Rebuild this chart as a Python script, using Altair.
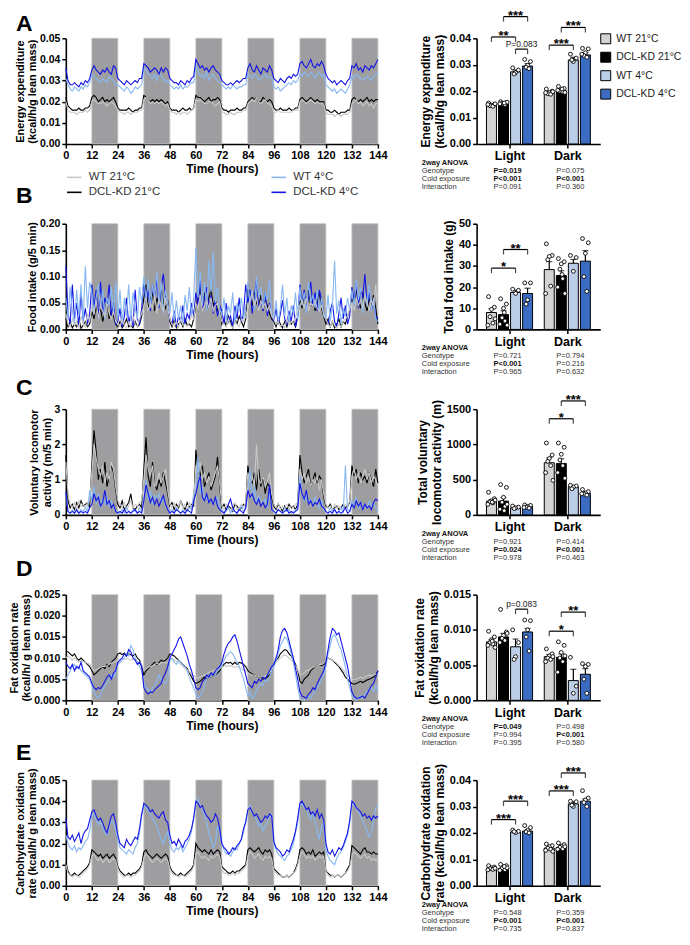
import altair as alt
import pandas as pd

FONT = "Liberation Sans"

# ---------------- shared categories ----------------
HOURS = list(range(0, 145))
DARK_START = [12, 36, 60, 84, 108, 132]
DARK_END = [24, 48, 72, 96, 120, 144]
GROUPS = ["WT 21°C", "DCL-KD 21°C", "WT 4°C", "DCL-KD 4°C"]
LINE_COLORS = ["#c8c8c8", "#000000", "#86b8f3", "#1414e6"]
BAR_COLORS = ["#d3d3d3", "#000000", "#bccde8", "#3c6cc2"]
PERIODS = ["Light", "Dark"]
ANOVA_TERMS = ["Genotype", "Cold exposure", "Interaction"]

# ---------------- A: energy expenditure time course (x0.001 kcal/h/g) ----------------
EE_WT21 = [20,16,15,15,15,14,15,15,15,16,15,16,
           20,21,20,19,19,20,19,18,19,20,19,18,
           16,15,15,14,15,15,14,15,15,15,16,16,
           21,22,21,19,20,19,20,19,20,19,18,19,
           16,15,15,14,15,14,15,15,14,15,16,17,
           21,20,21,20,19,19,20,20,19,18,19,20,
           15,15,14,14,15,14,14,15,15,15,16,16,
           19,20,21,20,22,20,19,20,21,19,19,18,
           15,15,16,15,15,15,15,15,15,16,16,16,
           20,21,20,19,20,21,20,19,20,19,19,19,
           15,14,14,14,13,14,14,13,14,14,14,15,
           19,20,21,19,20,18,19,20,18,19,17,19,
           19]
EE_KD21 = [22,18,17,16,16,16,17,16,16,17,17,18,
           22,23,22,20,21,22,20,21,20,21,22,20,
           17,16,16,16,16,17,16,15,16,16,17,17,
           23,22,21,20,21,20,21,20,21,20,19,20,
           17,16,16,16,15,16,17,16,16,17,16,17,
           23,22,22,21,20,21,22,20,21,21,22,21,
           17,16,16,15,16,16,16,17,16,16,17,17,
           20,21,22,21,22,20,20,22,21,20,21,20,
           17,16,16,17,16,16,16,17,16,16,17,17,
           21,22,21,20,21,22,21,20,21,20,20,20,
           16,16,15,15,16,15,14,15,15,15,16,16,
           21,22,21,20,21,20,21,22,20,21,20,21,
           21]
EE_WT4 = [31,28,26,25,27,26,25,27,26,28,27,29,
          33,32,31,30,29,31,30,29,32,31,30,28,
          28,27,26,25,27,26,24,25,27,26,27,28,
          36,35,33,32,31,33,30,34,32,31,29,30,
          28,27,26,27,26,28,26,27,27,28,29,29,
          37,35,32,33,31,34,30,32,33,31,30,29,
          28,27,26,27,26,28,27,26,27,27,28,28,
          33,32,31,33,32,30,31,32,33,31,32,31,
          27,26,27,25,26,27,28,29,28,30,29,30,
          33,32,34,33,32,34,33,31,33,34,32,33,
          28,27,26,25,26,24,25,26,25,24,26,28,
          32,31,33,32,31,30,31,32,31,30,32,33,
          34]
EE_KD4 = [36,30,28,28,29,28,27,29,28,30,29,31,
          35,37,35,34,33,35,34,36,34,33,37,36,
          31,30,29,28,30,29,28,29,30,29,31,31,
          38,37,36,34,35,36,35,33,36,34,36,35,
          31,30,29,29,28,30,29,28,30,29,31,32,
          40,38,36,37,35,36,34,36,37,35,34,33,
          30,29,28,28,29,28,29,30,29,30,31,31,
          36,38,35,34,37,35,33,36,35,34,37,35,
          31,30,29,31,30,29,31,32,31,33,32,33,
          38,39,37,36,38,40,37,36,38,37,39,37,
          33,31,30,29,30,28,29,30,29,28,30,31,
          37,36,38,35,36,34,37,36,35,37,36,38,
          40]

# ---------------- B: food intake time course (x0.001 g/5 min) ----------------
FI_WT21 = [30,10,5,20,8,15,3,25,10,5,30,15,
           40,30,55,20,45,35,25,50,30,20,35,15,
           10,5,20,8,3,15,5,25,10,5,20,30,
           45,60,35,50,40,65,30,55,45,35,60,40,
           20,10,5,15,3,20,8,10,5,15,25,20,
           50,40,65,35,45,55,40,60,35,45,50,30,
           15,10,5,20,8,3,15,10,5,20,15,25,
           40,55,70,45,60,35,55,40,50,35,45,25,
           20,10,15,5,10,3,20,8,15,10,25,35,
           45,55,40,60,35,50,45,55,40,35,45,30,
           20,10,5,15,8,3,10,5,15,20,25,40,
           50,35,60,45,55,40,65,50,35,55,45,85,
           30]
FI_KD21 = [20,5,15,3,10,5,20,2,8,15,5,10,
           35,20,45,25,40,15,30,55,20,35,25,10,
           5,15,3,10,20,5,8,3,15,5,10,25,
           60,85,40,55,70,35,60,45,80,50,40,55,
           15,5,20,3,10,15,5,20,8,10,5,20,
           45,60,80,50,70,40,60,75,45,55,35,45,
           10,20,5,25,15,3,20,10,25,15,5,20,
           85,60,45,70,50,40,65,35,55,45,30,20,
           15,5,20,10,3,15,5,20,10,15,5,25,
           55,40,65,50,75,45,60,35,50,70,40,25,
           10,20,5,15,3,10,20,5,15,10,25,35,
           60,45,75,55,40,70,50,35,60,45,65,40,
           10]
FI_WT4 = [60,20,80,35,10,75,25,85,15,120,40,90,
          70,30,60,85,40,75,20,60,45,80,30,90,
          20,75,10,60,25,85,15,70,40,20,80,50,
          100,55,95,40,85,60,110,45,90,30,75,50,
          30,70,15,55,20,45,10,65,35,80,25,60,
          155,60,110,45,90,35,130,70,145,50,80,40,
          25,60,15,45,30,70,10,50,35,60,20,40,
          90,50,75,35,100,60,80,40,70,55,95,30,
          20,55,15,40,85,25,60,10,45,30,70,20,
          80,45,70,30,90,50,65,40,75,35,60,25,
          20,65,15,45,130,30,55,10,40,25,60,35,
          75,40,95,55,80,30,70,45,85,35,60,20,
          15]
FI_KD4 = [120,30,10,85,20,50,5,70,15,40,10,30,
          85,40,75,20,90,30,60,45,85,25,50,10,
          15,40,5,25,60,10,30,5,75,20,10,40,
          90,50,75,35,85,60,95,40,80,105,60,45,
          20,10,35,5,25,15,45,10,30,20,50,25,
          70,45,95,35,60,80,40,65,30,55,25,45,
          35,10,50,15,25,5,45,20,60,15,30,85,
          50,75,30,60,95,40,55,35,70,25,50,30,
          15,40,10,30,55,20,10,35,15,45,5,25,
          85,50,75,40,60,90,45,70,35,75,55,30,
          20,10,35,50,15,5,30,60,20,45,10,25,
          80,55,90,40,75,60,105,45,70,35,55,25,
          20]

# ---------------- C: locomotor activity time course (x0.01 m/5 min) ----------------
LA_WT21 = [150,60,30,20,35,15,40,25,30,20,35,40,
           120,200,160,130,110,140,90,120,100,150,130,80,
           40,30,20,35,15,25,40,20,30,25,35,40,
           100,170,130,110,140,80,95,120,90,110,130,70,
           30,20,35,15,25,40,20,30,15,35,20,40,
           140,120,150,100,120,90,110,80,100,120,140,90,
           25,15,30,20,10,25,35,15,20,30,20,35,
           120,90,110,80,200,100,90,110,80,95,120,60,
           30,20,35,15,25,20,30,15,25,20,30,35,
           130,100,120,90,110,80,100,90,110,70,100,60,
           30,20,25,15,30,20,25,15,20,30,25,40,
           110,130,100,120,90,110,130,100,120,90,110,100,
           80]
LA_KD21 = [170,40,20,30,15,35,20,40,25,30,35,20,
           140,240,180,100,130,90,150,80,110,140,120,70,
           30,20,40,15,25,35,60,20,15,25,30,20,
           130,220,110,80,150,90,70,100,80,120,90,60,
           25,35,15,30,20,40,25,15,35,20,30,25,
           185,130,110,140,80,100,120,70,90,110,165,80,
           20,30,15,25,20,10,30,25,15,20,30,25,
           140,100,90,120,70,130,80,110,60,90,80,50,
           25,15,30,20,10,25,15,30,20,25,15,30,
           170,120,90,110,130,80,100,120,90,110,100,50,
           25,20,30,15,20,25,15,20,30,20,25,35,
           140,110,130,90,120,100,110,90,120,100,80,130,
           90]
LA_WT4 = [60,10,5,15,5,10,5,15,10,20,10,70,
          40,80,30,60,20,45,30,50,25,40,20,10,
          10,5,15,5,20,10,5,15,10,5,20,10,
          50,100,40,70,30,55,45,60,35,50,25,20,
          10,15,5,20,10,5,15,5,10,20,15,60,
          70,165,60,80,40,50,35,45,30,40,50,20,
          15,5,10,20,5,15,10,5,15,25,10,20,
          60,130,45,80,35,55,40,30,45,20,60,15,
          10,5,15,10,5,20,10,15,5,10,15,20,
          110,60,40,55,30,45,25,50,35,20,40,15,
          10,5,20,10,15,5,10,20,5,140,15,10,
          40,25,50,20,35,15,30,20,40,25,35,20,
          10]
LA_KD4 = [65,10,5,10,5,15,5,10,5,10,5,20,
          30,60,40,50,25,35,70,30,40,20,30,10,
          5,10,5,15,5,10,5,10,15,5,10,5,
          40,85,60,35,50,30,45,25,40,55,30,15,
          5,10,5,15,10,5,10,5,15,10,5,40,
          60,90,110,50,40,60,35,45,30,50,25,15,
          10,5,15,30,45,20,10,5,15,10,5,20,
          70,50,60,40,30,45,25,35,20,30,85,15,
          10,5,15,10,5,10,15,5,10,5,10,15,
          90,60,45,70,30,40,25,35,30,45,25,20,
          10,5,10,5,15,5,10,5,10,20,5,10,
          30,20,40,25,35,15,30,20,25,15,35,45,
          40]

# ---------------- D: fat oxidation time course (x0.0001 kcal/h/g) ----------------
FO_KD21 = [115,115,110,105,110,100,95,100,95,90,85,80,
           70,60,65,70,75,80,75,85,80,90,95,100,
           110,112,108,112,105,110,108,105,110,100,95,80,
           60,70,75,80,85,90,85,90,95,92,95,100,
           110,108,105,100,95,90,85,80,75,65,55,45,
           40,42,45,50,55,50,60,55,62,60,65,70,
           80,85,90,88,90,85,90,85,90,88,85,80,
           70,65,62,60,58,55,55,50,52,55,60,70,
           85,95,100,110,115,120,118,110,105,95,85,70,
           45,40,50,55,60,70,75,80,82,85,82,85,
           95,100,98,95,90,85,80,72,65,55,50,45,
           40,38,40,42,45,42,45,48,50,52,55,60,
           70]
FO_WT21 = [100,105,100,95,100,95,90,95,92,90,88,85,
           78,70,72,75,78,80,80,82,85,88,90,92,
           95,98,100,96,100,98,95,98,96,92,90,85,
           72,75,78,80,82,85,88,85,88,90,88,90,
           95,98,95,92,88,85,80,75,72,68,62,58,
           55,52,55,58,60,62,65,68,70,72,72,75,
           78,80,82,80,82,80,78,80,78,75,72,70,
           65,62,60,60,58,56,55,55,58,60,65,72,
           85,90,95,100,105,108,105,100,95,90,82,72,
           60,62,65,70,72,75,78,80,82,85,85,88,
           95,100,98,95,92,88,82,78,72,65,60,55,
           50,48,50,52,55,52,55,58,60,58,60,62,
           62]
FO_KD4 = [90,80,75,85,70,80,75,90,70,65,60,55,
          40,30,25,30,28,35,45,55,60,50,65,70,
          90,95,100,110,105,120,115,100,95,85,90,80,
          30,20,15,20,18,25,30,35,40,55,65,80,
          100,110,120,130,145,150,135,120,105,85,70,50,
          30,25,30,45,50,60,55,65,60,70,75,80,
          90,110,125,135,140,150,155,140,120,100,80,60,
          40,35,30,45,40,50,45,55,50,60,70,80,
          85,100,120,150,165,170,160,140,120,100,75,50,
          20,10,8,5,15,20,30,25,40,50,60,70,
          90,120,150,170,165,155,160,140,120,100,80,50,
          20,10,5,5,8,10,5,15,25,35,40,55,
          70]
FO_WT4 = [50,60,70,80,85,75,80,70,65,60,55,50,
          35,20,10,5,15,25,35,40,50,60,55,65,
          85,90,95,100,110,105,130,120,100,90,80,70,
          40,30,25,20,30,35,45,60,50,45,40,50,
          95,100,90,85,95,90,85,80,70,55,40,30,
          15,5,10,20,35,50,60,55,65,60,70,75,
          80,95,105,110,115,110,100,90,80,65,50,30,
          10,20,5,10,25,30,40,35,50,45,55,70,
          80,95,110,130,140,150,145,130,110,90,60,30,
          5,2,0,5,10,5,15,20,30,40,50,60,
          80,110,130,150,155,145,130,120,100,80,50,30,
          10,5,0,5,10,5,15,20,25,30,20,35,
          20]

# ---------------- E: carbohydrate oxidation time course (x0.001 kcal/h/g) ----------------
CO_WT21 = [10,6,5,4,5,5,4,5,6,7,8,10,
           14,15,13,12,13,11,12,13,11,12,13,12,
           8,6,5,4,5,5,4,5,5,6,7,9,
           13,15,14,12,11,12,13,12,11,12,13,12,
           8,6,5,5,4,5,5,4,5,6,7,9,
           15,16,14,13,14,13,12,14,13,14,15,14,
           8,6,6,5,5,6,5,6,6,7,8,9,
           14,16,15,13,14,15,13,12,14,13,14,13,
           7,6,5,5,4,4,5,4,5,6,7,10,
           14,16,15,13,14,13,14,12,13,14,13,14,
           7,5,4,5,4,5,5,4,5,6,7,9,
           14,16,15,14,13,14,15,13,14,12,13,12,
           13]
CO_KD21 = [11,7,5,5,6,5,5,6,7,8,9,11,
           17,16,15,14,15,13,14,15,13,14,15,13,
           9,7,6,5,5,6,5,6,6,7,8,10,
           16,17,15,14,13,14,15,14,13,14,15,14,
           9,7,6,5,5,6,5,5,6,7,8,10,
           20,18,17,16,17,16,15,17,15,16,17,16,
           9,8,7,6,6,7,6,7,7,8,9,10,
           17,18,17,16,17,18,16,15,17,16,17,15,
           8,7,6,5,4,4,5,4,5,6,8,11,
           17,18,17,15,16,15,17,14,15,16,15,16,
           7,6,5,5,4,5,5,4,5,6,8,10,
           19,18,17,16,15,17,18,16,16,15,16,15,
           15]
CO_WT4 = [24,20,18,17,19,16,18,17,19,21,22,26,
          33,34,31,29,30,27,25,24,28,31,30,26,
          22,18,17,16,15,17,16,15,18,20,25,33,
          38,37,35,34,32,30,28,25,22,20,23,26,
          20,17,16,18,17,19,16,18,20,22,26,32,
          39,41,38,36,33,30,25,22,18,20,28,26,
          20,17,15,16,14,16,18,17,20,22,25,31,
          36,38,35,33,31,28,30,26,28,30,33,34,
          20,17,15,14,13,12,14,15,17,20,25,30,
          38,39,37,36,33,31,35,30,26,22,28,30,
          17,14,12,11,10,13,15,16,18,21,24,30,
          38,39,37,35,33,31,28,26,23,25,30,37,
          38]
CO_KD4 = [32,23,22,24,21,23,25,20,24,26,27,31,
          35,36,33,31,32,30,27,25,29,33,34,30,
          24,20,19,18,22,20,19,21,23,22,27,34,
          39,38,37,35,36,34,33,32,34,35,31,30,
          24,20,21,19,22,20,18,21,22,24,27,32,
          40,39,37,38,35,33,32,30,31,34,32,27,
          20,18,17,15,16,18,17,19,20,22,27,30,
          36,37,35,33,34,32,30,31,33,32,34,33,
          21,18,17,16,14,15,17,16,19,22,26,32,
          39,40,38,36,37,34,35,33,36,32,34,31,
          20,16,15,17,14,16,18,17,19,22,25,31,
          40,39,37,36,35,33,34,32,33,31,33,32,
          33]

# ---------------- bar summaries: Light(WT21, KD21, WT4, KD4), Dark(same) ----------------
EE_MEAN = [0.0148, 0.0153, 0.0273, 0.0295, 0.0193, 0.0201, 0.0318, 0.0337]
EE_SEM = [0.0003, 0.0003, 0.0007, 0.0009, 0.0004, 0.0004, 0.0010, 0.0009]
EE_DOTS = [[0.0155, 0.0150, 0.0147, 0.0145, 0.0143, 0.0149, 0.0152],
           [0.0160, 0.0157, 0.0150, 0.0154, 0.0148, 0.0152, 0.0158, 0.0155],
           [0.0288, 0.0280, 0.0270, 0.0265],
           [0.0320, 0.0312, 0.0298, 0.0290, 0.0285],
           [0.0208, 0.0200, 0.0195, 0.0190, 0.0188, 0.0194, 0.0198],
           [0.0218, 0.0210, 0.0205, 0.0200, 0.0197, 0.0203, 0.0195, 0.0208],
           [0.0340, 0.0325, 0.0312, 0.0318],
           [0.0362, 0.0360, 0.0345, 0.0335, 0.0328, 0.0340]]
EE_BRACKETS = [(0, 2, 0.0405, "**"), (1, 3, 0.0482, "***"), (2, 3, 0.0359, "P=0.083"),
               (4, 6, 0.0374, "***"), (5, 7, 0.0441, "***")]
EE_ANOVA_LIGHT = ["P=0.019", "P<0.001", "P=0.091"]
EE_ANOVA_DARK = ["P=0.075", "P<0.001", "P=0.360"]

FI_MEAN = [8.0, 7.0, 17.5, 17.0, 28.3, 25.5, 31.3, 32.3]
FI_SEM = [1.8, 1.8, 1.0, 2.5, 3.8, 2.3, 1.8, 5.0]
FI_DOTS = [[15.5, 10.5, 9.5, 6.0, 3.0, 2.0, 5.0],
           [14.5, 12.0, 10.0, 5.5, 4.0, 2.5, 2.0, 8.0],
           [19.0, 18.5, 17.0],
           [22.0, 22.0, 14.0, 12.0],
           [40.5, 35.0, 34.5, 33.0, 20.5, 17.0],
           [33.5, 32.0, 31.0, 28.5, 24.0, 20.0, 17.0, 26.0],
           [35.0, 34.0, 27.5],
           [43.0, 41.0, 36.0, 25.0, 18.0]]
FI_BRACKETS = [(0, 2, 29.0, "*"), (1, 3, 37.8, "**")]
FI_ANOVA_LIGHT = ["P=0.721", "P<0.001", "P=0.965"]
FI_ANOVA_DARK = ["P=0.794", "P=0.216", "P=0.632"]

LA_MEAN = [195, 195, 100, 120, 740, 730, 400, 305]
LA_SEM = [20, 50, 8, 12, 70, 65, 15, 18]
LA_DOTS = [[320, 230, 200, 185, 170, 150, 210, 180],
           [430, 390, 250, 180, 120, 80, 150, 60],
           [125, 110, 100, 90],
           [140, 135, 120, 110, 95, 105],
           [1020, 850, 800, 760, 700, 600, 490],
           [1020, 960, 860, 780, 700, 600, 520],
           [420, 410, 395, 370],
           [360, 330, 310, 295, 280, 300]]
LA_BRACKETS = [(4, 6, 1364, "*"), (5, 7, 1617, "***")]
LA_ANOVA_LIGHT = ["P=0.921", "P=0.024", "P=0.978"]
LA_ANOVA_DARK = ["P=0.414", "P<0.001", "P=0.463"]

FO_MEAN = [0.0083, 0.0090, 0.0076, 0.0097, 0.0062, 0.0061, 0.0028, 0.0037]
FO_SEM = [0.0003, 0.0005, 0.0011, 0.0005, 0.0003, 0.0005, 0.0016, 0.0008]
FO_DOTS = [[0.0098, 0.0090, 0.0086, 0.0082, 0.0080, 0.0078, 0.0075, 0.0084],
           [0.0129, 0.0097, 0.0092, 0.0088, 0.0085, 0.0082, 0.0095],
           [0.0100, 0.0082, 0.0062, 0.0058],
           [0.0114, 0.0113, 0.0100, 0.0090, 0.0070],
           [0.0073, 0.0066, 0.0063, 0.0060, 0.0058, 0.0055, 0.0062],
           [0.0083, 0.0078, 0.0068, 0.0060, 0.0055, 0.0040, 0.0063],
           [0.0061, 0.0020, 0.0010],
           [0.0052, 0.0051, 0.0048, 0.0030, 0.0010]]
FO_BRACKETS = [(2, 3, 0.01294, "p=0.083"), (4, 6, 0.00981, "*"), (5, 7, 0.01252, "**")]
FO_ANOVA_LIGHT = ["P=0.049", "P=0.994", "P=0.395"]
FO_ANOVA_DARK = ["P=0.498", "P<0.001", "P=0.580"]

CO_MEAN = [0.0066, 0.0066, 0.0203, 0.0207, 0.0143, 0.0145, 0.0310, 0.0320]
CO_SEM = [0.0003, 0.0003, 0.0003, 0.0005, 0.0004, 0.0003, 0.0008, 0.0009]
CO_DOTS = [[0.0076, 0.0071, 0.0068, 0.0065, 0.0062, 0.0060, 0.0066],
           [0.0081, 0.0076, 0.0071, 0.0066, 0.0061, 0.0058, 0.0068, 0.0073],
           [0.0211, 0.0206, 0.0201, 0.0205],
           [0.0228, 0.0220, 0.0210, 0.0204, 0.0200],
           [0.0158, 0.0152, 0.0148, 0.0142, 0.0138, 0.0134, 0.0130],
           [0.0162, 0.0156, 0.0150, 0.0146, 0.0140, 0.0138, 0.0148],
           [0.0320, 0.0318, 0.0300, 0.0305],
           [0.0360, 0.0332, 0.0325, 0.0315, 0.0300]]
CO_BRACKETS = [(0, 2, 0.02505, "***"), (1, 3, 0.03203, "***"),
               (4, 6, 0.0359, "***"), (5, 7, 0.0427, "***")]
CO_ANOVA_LIGHT = ["P=0.548", "P<0.001", "P=0.735"]
CO_ANOVA_DARK = ["P=0.359", "P<0.001", "P=0.837"]

# ---------------- layout constants ----------------
W_LEFT = 313
W_BAR = 124
ROW_H = 106
BAND_COLOR = "#9e9ea1"
BAR_POS = [0, 1, 2, 3, 4.8, 5.8, 6.8, 7.8]
DOT_SPREAD = [-0.24, 0.24, 0.0, -0.12, 0.12, -0.3, 0.3, 0.06]
ORDER_DEFAULT = ["DCL-KD 21°C", "WT 21°C", "WT 4°C", "DCL-KD 4°C"]
ORDER_FOOD = ["DCL-KD 21°C", "DCL-KD 4°C", "WT 4°C", "WT 21°C"]


def ts_frame(series, scale):
    rows = []
    for name, vals in series.items():
        assert len(vals) == len(HOURS), (name, len(vals))
        for h, v in zip(HOURS, vals):
            rows.append({"hour": h, "series": name, "value": v * scale})
    return pd.DataFrame(rows)


def ts_chart(letter, letter_y, series, scale, ymax, yvals, yfmt, ytitle, show_legend, draw_order):
    height = ROW_H
    df = ts_frame(series, scale)
    xs = alt.Scale(domain=[0, 144], nice=False, zero=False)
    ys = alt.Scale(domain=[0, ymax], nice=False)
    xaxis = alt.Axis(values=list(range(0, 145, 12)), title="Time (hours)", titleFontSize=12,
                     titlePadding=3, labelFontSize=11, labelOverlap=False, labelFlush=False)
    yaxis = alt.Axis(values=yvals, format=yfmt, title=ytitle, titleFontSize=11,
                     titleLineHeight=12.5, labelFontSize=10.5, titlePadding=2)
    bands_df = pd.DataFrame({"start": DARK_START, "end": DARK_END})
    bands = alt.Chart(bands_df).mark_rect(color=BAND_COLOR, stroke="#c4c4c6", strokeWidth=0.8).encode(
        x=alt.X("start:Q", scale=xs, axis=xaxis),
        x2="end:Q",
        y=alt.value(0), y2=alt.value(height))
    if show_legend:
        leg = alt.Legend(title=None, orient="none", legendX=0, legendY=131, columns=2,
                         columnPadding=108, rowPadding=1, symbolType="stroke", symbolSize=210,
                         symbolStrokeWidth=1.6, labelFont=FONT, labelFontSize=11.5,
                         labelColor="#333333", labelOffset=6, padding=0)
    else:
        leg = None
    color = alt.Color("series:N", scale=alt.Scale(domain=GROUPS, range=LINE_COLORS), legend=leg)
    layers = [bands]
    for name in draw_order:
        layers.append(
            alt.Chart(df).transform_filter(alt.datum.series == name)
            .mark_line(strokeWidth=1.1)
            .encode(x=alt.X("hour:Q", scale=xs, axis=xaxis),
                    y=alt.Y("value:Q", scale=ys, axis=yaxis),
                    color=color))
    letter_layer = alt.Chart(pd.DataFrame({"t": [letter]})).mark_text(
        font=FONT, fontSize=23, fontWeight="bold", align="left", baseline="alphabetic", color="black"
    ).encode(text="t:N", x=alt.value(-50), y=alt.value(letter_y))
    layers.append(letter_layer)
    return alt.layer(*layers).properties(width=W_LEFT, height=height)


def is_sig(p):
    if "<" in p:
        return True
    return float(p.split("=")[1]) < 0.05


def bar_chart(means, sems, dots, brackets, ymax, yvals, yfmt, ytitle,
              anova_light, anova_dark, show_legend):
    height = ROW_H
    xs = alt.Scale(domain=[-0.82, 8.62], nice=False, zero=False)
    ys = alt.Scale(domain=[0, ymax], nice=False)
    xaxis = alt.Axis(values=[1.5, 6.3], labelExpr="datum.value < 4 ? 'Light' : 'Dark'",
                     title=None, labelFontSize=12.5, labelPadding=2)
    yaxis = alt.Axis(values=yvals, format=yfmt, title=ytitle, titleFontSize=12,
                     titleLineHeight=13.5, labelFontSize=11, titlePadding=3)
    brows, drows = [], []
    for i in range(8):
        brows.append({"pos": BAR_POS[i], "group": GROUPS[i % 4], "period": PERIODS[i // 4],
                      "mean": means[i], "top": means[i] + sems[i]})
        for k, v in enumerate(dots[i]):
            drows.append({"pos": BAR_POS[i] + DOT_SPREAD[k % len(DOT_SPREAD)], "value": v})
    bdf = pd.DataFrame(brows)
    ddf = pd.DataFrame(drows)
    X = alt.X("pos:Q", scale=xs, axis=xaxis)
    if show_legend:
        leg = alt.Legend(title=None, orient="none", legendX=124, legendY=-5, symbolType="square",
                         symbolSize=100, symbolStrokeColor="black", symbolStrokeWidth=1,
                         labelFont=FONT, labelFontSize=10.5, labelColor="#222222",
                         rowPadding=3.5, labelOffset=5, padding=0)
    else:
        leg = None
    bars = alt.Chart(bdf).mark_bar(size=10, stroke="black", strokeWidth=1).encode(
        x=X, y=alt.Y("mean:Q", scale=ys, axis=yaxis),
        color=alt.Color("group:N", scale=alt.Scale(domain=GROUPS, range=BAR_COLORS), legend=leg))
    err = alt.Chart(bdf).mark_rule(color="black", strokeWidth=1.2).encode(
        x=X, y=alt.Y("mean:Q", scale=ys, axis=yaxis), y2="top:Q")
    cap = alt.Chart(bdf).mark_tick(orient="horizontal", size=6, thickness=1.2, color="black").encode(
        x=X, y=alt.Y("top:Q", scale=ys, axis=yaxis))
    pts = alt.Chart(ddf).mark_circle(size=15, color="white", stroke="black", strokeWidth=0.9,
                                     opacity=1).encode(
        x=X, y=alt.Y("value:Q", scale=ys, axis=yaxis))
    krows, erows = [], []
    for (i, j, yv, lab) in brackets:
        krows.append({"x1": BAR_POS[i], "x2": BAR_POS[j], "xm": (BAR_POS[i] + BAR_POS[j]) / 2,
                      "y": yv, "label": lab, "star": lab.startswith("*")})
        erows.append({"xe": BAR_POS[i], "y": yv})
        erows.append({"xe": BAR_POS[j], "y": yv})
    kdf = pd.DataFrame(krows)
    edf = pd.DataFrame(erows)
    hline = alt.Chart(kdf).mark_rule(color="black", strokeWidth=1.2).encode(
        x=alt.X("x1:Q", scale=xs, axis=xaxis), x2="x2:Q", y=alt.Y("y:Q", scale=ys, axis=yaxis))
    ends = alt.Chart(edf).mark_tick(orient="vertical", size=5, thickness=1.2, color="black",
                                    yOffset=2.5).encode(
        x=alt.X("xe:Q", scale=xs, axis=xaxis), y=alt.Y("y:Q", scale=ys, axis=yaxis))
    stars = alt.Chart(kdf).transform_filter(alt.datum.star == True).mark_text(
        font=FONT, fontSize=13, fontWeight="bold", baseline="alphabetic", dy=3, color="black").encode(
        x=alt.X("xm:Q", scale=xs, axis=xaxis), y=alt.Y("y:Q", scale=ys, axis=yaxis), text="label:N")
    plabs = alt.Chart(kdf).transform_filter(alt.datum.star == False).mark_text(
        font=FONT, fontSize=8.5, baseline="alphabetic", dy=-2, color="#222222").encode(
        x=alt.X("xm:Q", scale=xs, axis=xaxis), y=alt.Y("y:Q", scale=ys, axis=yaxis), text="label:N")
    arows = [{"t": "2way ANOVA", "px": -55, "py": height + 19, "bold": True}]
    for k, term in enumerate(ANOVA_TERMS):
        py = height + 27 + 8 * k
        arows.append({"t": term, "px": -55, "py": py, "bold": False})
        arows.append({"t": anova_light[k], "px": 17, "py": py, "bold": is_sig(anova_light[k])})
        arows.append({"t": anova_dark[k], "px": 80, "py": py, "bold": is_sig(anova_dark[k])})
    adf = pd.DataFrame(arows)
    a_bold = alt.Chart(adf).transform_filter(alt.datum.bold == True).mark_text(
        font=FONT, fontSize=7.5, fontWeight="bold", align="left", baseline="middle", color="#111111").encode(
        x=alt.X("px:Q", scale=None), y=alt.Y("py:Q", scale=None), text="t:N")
    a_norm = alt.Chart(adf).transform_filter(alt.datum.bold == False).mark_text(
        font=FONT, fontSize=7.5, align="left", baseline="middle", color="#333333").encode(
        x=alt.X("px:Q", scale=None), y=alt.Y("py:Q", scale=None), text="t:N")
    return alt.layer(bars, err, cap, pts, hline, ends, stars, plabs, a_bold, a_norm).properties(
        width=W_BAR, height=height)


A_ts = ts_chart("A", -7, {"DCL-KD 21°C": EE_KD21, "WT 21°C": EE_WT21, "WT 4°C": EE_WT4, "DCL-KD 4°C": EE_KD4},
                0.001, 0.05, [0, 0.01, 0.02, 0.03, 0.04, 0.05], ".2f",
                ["Energy expenditure", "(kcal/h/g lean mass)"], True, ORDER_DEFAULT)
A_bar = bar_chart(EE_MEAN, EE_SEM, EE_DOTS, EE_BRACKETS, 0.04, [0, 0.01, 0.02, 0.03, 0.04], ".2f",
                  ["Energy expenditure", "(kcal/h/g lean mass)"], EE_ANOVA_LIGHT, EE_ANOVA_DARK, True)

B_ts = ts_chart("B", -21, {"DCL-KD 21°C": FI_KD21, "WT 21°C": FI_WT21, "WT 4°C": FI_WT4, "DCL-KD 4°C": FI_KD4},
                0.001, 0.20, [0, 0.05, 0.10, 0.15, 0.20], ".2f",
                "Food intake (g/5 min)", False, ORDER_FOOD)
B_bar = bar_chart(FI_MEAN, FI_SEM, FI_DOTS, FI_BRACKETS, 50, [0, 10, 20, 30, 40, 50], "d",
                  "Total food intake (g)", FI_ANOVA_LIGHT, FI_ANOVA_DARK, False)

C_ts = ts_chart("C", -14, {"DCL-KD 21°C": LA_KD21, "WT 21°C": LA_WT21, "WT 4°C": LA_WT4, "DCL-KD 4°C": LA_KD4},
                0.01, 3, [0, 1, 2, 3], "d",
                ["Voluntary locomotor", "activity (m/5 min)"], False, ORDER_DEFAULT)
C_bar = bar_chart(LA_MEAN, LA_SEM, LA_DOTS, LA_BRACKETS, 1500, [0, 500, 1000, 1500], "d",
                  ["Total voluntary", "locomotor activity (m)"], LA_ANOVA_LIGHT, LA_ANOVA_DARK, False)

D_ts = ts_chart("D", -19, {"DCL-KD 21°C": FO_KD21, "WT 21°C": FO_WT21, "WT 4°C": FO_WT4, "DCL-KD 4°C": FO_KD4},
                0.0001, 0.025, [0, 0.005, 0.010, 0.015, 0.020, 0.025], ".3f",
                ["Fat oxidation rate", "(kcal/h/ g lean mass)"], False, ORDER_DEFAULT)
D_bar = bar_chart(FO_MEAN, FO_SEM, FO_DOTS, FO_BRACKETS, 0.015, [0, 0.005, 0.010, 0.015], ".3f",
                  ["Fat oxidation rate", "(kcal/h/g lean mass)"], FO_ANOVA_LIGHT, FO_ANOVA_DARK, False)

E_ts = ts_chart("E", -20, {"DCL-KD 21°C": CO_KD21, "WT 21°C": CO_WT21, "WT 4°C": CO_WT4, "DCL-KD 4°C": CO_KD4},
                0.001, 0.05, [0, 0.01, 0.02, 0.03, 0.04, 0.05], ".2f",
                ["Carbohydrate oxidation", "rate (kcal/h/ g lean mass)"], False, ORDER_DEFAULT)
E_bar = bar_chart(CO_MEAN, CO_SEM, CO_DOTS, CO_BRACKETS, 0.04, [0, 0.01, 0.02, 0.03, 0.04], ".2f",
                  ["Carbohydrate oxidation", "rate (kcal/h/g lean mass)"], CO_ANOVA_LIGHT, CO_ANOVA_DARK, False)

chart = alt.concat(
    A_ts, A_bar, B_ts, B_bar, C_ts, C_bar, D_ts, D_bar, E_ts, E_bar,
    columns=2, spacing={"row": 80, "column": 99}, bounds="flush",
).resolve_scale(
    x="independent", y="independent", color="independent"
).properties(
    padding={"left": 0, "top": 0, "right": 0, "bottom": 0}
).configure_view(
    stroke=None
).configure_axis(
    labelFont=FONT, labelFontWeight="bold", labelColor="black",
    titleFont=FONT, titleFontWeight="bold", titleColor="black",
    domainColor="black", domainWidth=1.6, tickColor="black", tickWidth=1.5, tickSize=4,
    labelPadding=2, grid=False,
).configure_text(font=FONT)

chart.save("out.html", embed_options={"renderer": "svg", "actions": False})
